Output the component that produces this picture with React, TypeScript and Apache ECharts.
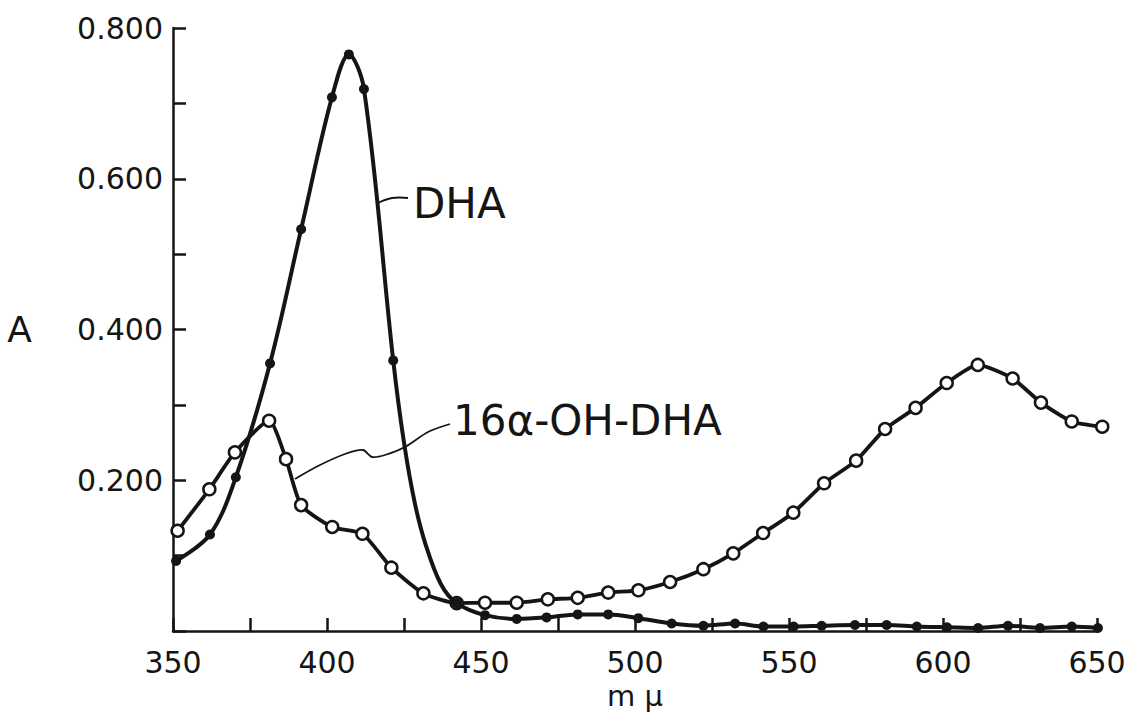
import React, { useEffect, useRef } from "react";
import * as echarts from "echarts";

// Wavelength (mμ) and absorbance (A)
const dhaX = [351, 362, 370.4, 381.5, 391.6, 401.6, 407.1, 412, 421.5, 425, 428.5, 432, 437, 442.1, 451.3, 461.6, 471.3, 481.4, 491.3, 501.1, 511.9, 522.2, 532.5, 541.7, 551.5, 560.6, 571.4, 581.7, 591.5, 601.3, 611.4, 621.1, 631.5, 641.8, 650.3];
const dhaY = [0.093, 0.128, 0.204, 0.355, 0.533, 0.708, 0.765, 0.719, 0.359, 0.25, 0.17, 0.115, 0.062, 0.037, 0.021, 0.016, 0.018, 0.022, 0.022, 0.017, 0.01, 0.007, 0.01, 0.006, 0.006, 0.007, 0.008, 0.008, 0.006, 0.005, 0.004, 0.007, 0.004, 0.006, 0.004];
// 1 = plotted point drawn with a marker, 0 = point on the drawn curve only
const dhaMarked = [1, 1, 1, 1, 1, 1, 1, 1, 1, 0, 0, 0, 0, 1, 1, 1, 1, 1, 1, 1, 1, 1, 1, 1, 1, 1, 1, 1, 1, 1, 1, 1, 1, 1, 1];

const ohX = [351.5, 361.8, 370.1, 381.2, 386.7, 391.6, 401.7, 411.5, 420.9, 431.3, 442.1, 451.3, 461.6, 471.7, 481.4, 491.3, 501.1, 511.4, 522.2, 531.9, 541.6, 551.4, 561.4, 571.8, 581.2, 591.1, 601.2, 611.3, 622.6, 631.8, 641.8, 651.7];
const ohY = [0.133, 0.188, 0.237, 0.279, 0.228, 0.167, 0.138, 0.129, 0.084, 0.05, 0.037, 0.0375, 0.0375, 0.042, 0.044, 0.051, 0.054, 0.065, 0.082, 0.103, 0.13, 0.157, 0.196, 0.226, 0.268, 0.296, 0.329, 0.353, 0.335, 0.303, 0.278, 0.271];

const xLabels = [350, 400, 450, 500, 550, 600, 650];
const yLabels = [0.2, 0.4, 0.6, 0.8];

const INK = "#151515";
const FONT = "DejaVu Sans";

export default function App() {
  const ref = useRef<HTMLDivElement>(null);

  useEffect(() => {
    const chart = echarts.init(ref.current!, null, { renderer: "svg" });

    const dhaData = dhaX.map((x, i) =>
      dhaMarked[i] ? { value: [x, dhaY[i]] } : { value: [x, dhaY[i]], symbol: "none" }
    );
    const ohData = ohX.map((x, i) => [x, ohY[i]]);

    chart.setOption({
      animation: false,
      backgroundColor: "#ffffff",
      grid: { left: 173, right: 47, top: 28, bottom: 92, containLabel: false },
      xAxis: {
        type: "value",
        min: 350,
        max: 650,
        interval: 25,
        name: "m μ",
        nameLocation: "middle",
        nameGap: 50,
        nameTextStyle: { fontFamily: FONT, fontSize: 29, color: INK },
        axisLine: { show: true, lineStyle: { color: INK, width: 2.5 } },
        axisTick: { show: true, inside: true, length: 13, lineStyle: { color: INK, width: 2.5 } },
        axisLabel: {
          margin: 16,
          fontFamily: FONT,
          fontSize: 30,
          color: INK,
          formatter: (v: number) => (xLabels.includes(Math.round(v)) ? String(Math.round(v)) : ""),
        },
        splitLine: { show: false },
      },
      yAxis: {
        type: "value",
        min: 0,
        max: 0.8,
        interval: 0.1,
        name: "A",
        nameLocation: "middle",
        nameRotate: 0,
        nameGap: 141,
        nameTextStyle: { fontFamily: FONT, fontSize: 36, color: INK },
        axisLine: { show: true, lineStyle: { color: INK, width: 2.5 } },
        axisTick: { show: true, inside: true, length: 13, lineStyle: { color: INK, width: 2.5 } },
        axisLabel: {
          margin: 10,
          fontFamily: FONT,
          fontSize: 30,
          color: INK,
          formatter: (v: number) => {
            const r = Math.round(v * 10) / 10;
            return yLabels.includes(r) ? r.toFixed(3) : "";
          },
        },
        splitLine: { show: false },
      },
      series: [
        {
          name: "16α-OH-DHA",
          type: "line",
          data: ohData,
          clip: false,
          smooth: 0.2,
          symbol: "circle",
          symbolSize: 12,
          itemStyle: { color: "#ffffff", borderColor: INK, borderWidth: 2.5 },
          lineStyle: { color: INK, width: 3.8 },
          z: 2,
        },
        {
          name: "DHA",
          type: "line",
          data: dhaData,
          clip: false,
          smooth: 0.35,
          symbol: "circle",
          symbolSize: 10,
          itemStyle: { color: INK },
          lineStyle: { color: INK, width: 4 },
          z: 3,
        },
      ],
      graphic: [
        {
          type: "polyline",
          shape: { points: [[378, 203], [392, 198], [408, 198]], smooth: 0.4 },
          style: { stroke: INK, lineWidth: 1.8, fill: "none" },
        },
        {
          type: "text",
          x: 413,
          y: 203,
          style: { text: "DHA", fontFamily: FONT, fontSize: 42, fill: INK, align: "left", verticalAlign: "middle" },
        },
        {
          type: "polyline",
          shape: {
            points: [[295, 479], [318, 466], [345, 454], [363, 450], [372, 457], [385, 455], [405, 447], [428, 432], [450, 424]],
            smooth: 0.3,
          },
          style: { stroke: INK, lineWidth: 1.8, fill: "none" },
        },
        {
          type: "text",
          x: 453,
          y: 420,
          style: { text: "16α-OH-DHA", fontFamily: FONT, fontSize: 42, fill: INK, align: "left", verticalAlign: "middle" },
        },
      ],
    });

    return () => chart.dispose();
  }, []);

  return (
    <div
      ref={ref}
      style={{ position: "fixed", left: 0, top: 0, width: 1144, height: 723, background: "#ffffff" }}
    />
  );
}
